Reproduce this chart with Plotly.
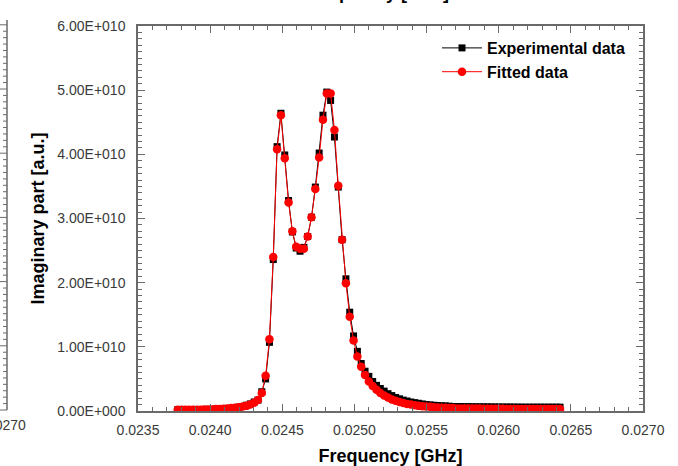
import plotly.graph_objects as go

# ---------------- data ----------------
SCALE = 1e10  # values below are in units of 1e10 a.u.

freq_ghz = [
    0.0237750, 0.0238015, 0.0238280, 0.0238545, 0.0238810, 0.0239075, 0.0239340, 0.0239605,
    0.0239870, 0.0240135, 0.0240400, 0.0240665, 0.0240930, 0.0241195, 0.0241460, 0.0241725,
    0.0241990, 0.0242255, 0.0242520, 0.0242785, 0.0243050, 0.0243315, 0.0243580, 0.0243845,
    0.0244110, 0.0244375, 0.0244640, 0.0244905, 0.0245170, 0.0245435, 0.0245700, 0.0245965,
    0.0246230, 0.0246495, 0.0246760, 0.0247025, 0.0247290, 0.0247555, 0.0247820, 0.0248085,
    0.0248350, 0.0248615, 0.0248880, 0.0249145, 0.0249410, 0.0249675, 0.0249940, 0.0250205,
    0.0250470, 0.0250735, 0.0251000, 0.0251265, 0.0251530, 0.0251795, 0.0252060, 0.0252325,
    0.0252590, 0.0252855, 0.0253120, 0.0253385, 0.0253650, 0.0253915, 0.0254180, 0.0254445,
    0.0254710, 0.0254975, 0.0255240, 0.0255505, 0.0255770, 0.0256035, 0.0256300, 0.0256565,
    0.0256830, 0.0257095, 0.0257360, 0.0257625, 0.0257890, 0.0258155, 0.0258420, 0.0258685,
    0.0258950, 0.0259215, 0.0259480, 0.0259745, 0.0260010, 0.0260275, 0.0260540, 0.0260805,
    0.0261070, 0.0261335, 0.0261600, 0.0261865, 0.0262130, 0.0262395, 0.0262660, 0.0262925,
    0.0263190, 0.0263455, 0.0263720, 0.0263985, 0.0264250,
]

experimental = [
    0.02, 0.02, 0.02, 0.02, 0.02, 0.02, 0.02, 0.025, 0.025, 0.025,
    0.03, 0.03, 0.035, 0.04, 0.04, 0.05, 0.06, 0.07, 0.09, 0.11,
    0.14, 0.17, 0.30, 0.50, 1.07, 2.36, 4.12, 4.64, 3.99, 3.28,
    2.79, 2.54, 2.49, 2.55, 2.72, 3.02, 3.49, 4.02, 4.61, 4.97,
    4.84, 4.27, 3.49, 2.67, 2.06, 1.54, 1.17, 0.93, 0.74, 0.62,
    0.54, 0.46, 0.40, 0.35, 0.31, 0.27, 0.24, 0.21, 0.19, 0.17,
    0.155, 0.14, 0.13, 0.12, 0.11, 0.10, 0.095, 0.09, 0.085, 0.08,
    0.08, 0.075, 0.07, 0.07, 0.07, 0.068, 0.068, 0.066, 0.066, 0.065,
    0.065, 0.064, 0.064, 0.063, 0.063, 0.062, 0.062, 0.062, 0.061, 0.061,
    0.06, 0.06, 0.06, 0.06, 0.06, 0.06, 0.06, 0.06, 0.06, 0.06, 0.06,
]

fitted = [
    0.02, 0.02, 0.02, 0.02, 0.02, 0.02, 0.02, 0.025, 0.025, 0.025,
    0.03, 0.03, 0.035, 0.04, 0.045, 0.05, 0.06, 0.07, 0.08, 0.10,
    0.13, 0.17, 0.28, 0.55, 1.12, 2.40, 4.08, 4.61, 3.94, 3.25,
    2.80, 2.56, 2.53, 2.53, 2.72, 3.02, 3.46, 3.95, 4.54, 4.95,
    4.95, 4.38, 3.51, 2.67, 1.99, 1.47, 1.10, 0.85, 0.69, 0.56,
    0.46, 0.39, 0.33, 0.28, 0.24, 0.21, 0.18, 0.16, 0.14, 0.125,
    0.11, 0.10, 0.09, 0.08, 0.075, 0.07, 0.065, 0.06, 0.055, 0.05,
    0.05, 0.045, 0.045, 0.04, 0.04, 0.04, 0.04, 0.04, 0.038, 0.038,
    0.036, 0.036, 0.035, 0.035, 0.034, 0.034, 0.033, 0.033, 0.032, 0.032,
    0.032, 0.031, 0.031, 0.031, 0.03, 0.03, 0.03, 0.03, 0.03, 0.03, 0.03,
]

series_names = ["Experimental data", "Fitted data"]

y_tickvals = [0, 1e10, 2e10, 3e10, 4e10, 5e10, 6e10]
y_ticktext = ["0.00E+000", "1.00E+010", "2.00E+010", "3.00E+010",
              "4.00E+010", "5.00E+010", "6.00E+010"]

# ---------------- style ----------------
FONT = "Arial, 'Liberation Sans', sans-serif"
AXIS_COLOR = "#6a6a6a"
TICK_FONT_COLOR = "#3a3a3a"

W, H = 678, 466
ML, MR, MT, MB = 138, 35, 26, 55
PW, PH = W - ML - MR, H - MT - MB


def px_to_paper_x(px):
    return (px - ML) / PW


def px_to_paper_y(py):
    return (H - MB - py) / PH


fig = go.Figure()
fig.add_trace(go.Scatter(
    x=freq_ghz, y=[v * SCALE for v in experimental],
    mode="lines+markers", name="<b>%s</b>" % series_names[0],
    line=dict(color="black", width=1),
    marker=dict(symbol="square", size=7, color="black"),
))
fig.add_trace(go.Scatter(
    x=freq_ghz, y=[v * SCALE for v in fitted],
    mode="lines+markers", name="<b>%s</b>" % series_names[1],
    line=dict(color="#ff0000", width=1),
    marker=dict(symbol="circle", size=8.5, color="#ff0000"),
))

common_axis = dict(
    showline=True, linecolor=AXIS_COLOR, linewidth=1.5, mirror="ticks",
    ticks="inside", ticklen=7, tickwidth=1, tickcolor=AXIS_COLOR,
    showgrid=False, zeroline=False,
    tickfont=dict(family=FONT, size=14, color=TICK_FONT_COLOR),
)

fig.update_xaxes(
    range=[0.0235, 0.0270], tickmode="linear", tick0=0.0235, dtick=0.0005,
    tickformat=".4f", ticklabelstandoff=5,
    minor=dict(dtick=0.0001, tick0=0.0235, ticks="inside", ticklen=4,
               tickcolor=AXIS_COLOR, tickwidth=1),
    title=dict(text="<b>Frequency [GHz]</b>", standoff=14,
               font=dict(family=FONT, size=18, color="black")),
    **common_axis,
)
fig.update_yaxes(
    range=[0, 6e10], tickmode="array", tickvals=y_tickvals, ticktext=y_ticktext,
    ticklabelstandoff=8,
    minor=dict(dtick=1e9, tick0=0, ticks="inside", ticklen=4,
               tickcolor=AXIS_COLOR, tickwidth=1),
    title=dict(text="<b>Imaginary part [a.u.]</b>", standoff=8,
               font=dict(family=FONT, size=18, color="black")),
    **common_axis,
)

# fragments of the neighbouring chart visible at the image edges
shapes = [dict(type="line", xref="paper", yref="paper",
               x0=px_to_paper_x(7), x1=px_to_paper_x(7),
               y0=px_to_paper_y(20), y1=px_to_paper_y(410),
               line=dict(color=AXIS_COLOR, width=1.5))]
step = 64.2 / 10
k = 0
py = 410.0
while py >= 20:
    length = 7 if k % 10 == 0 else 4
    shapes.append(dict(type="line", xref="paper", yref="paper",
                       x0=px_to_paper_x(7 - length), x1=px_to_paper_x(7),
                       y0=px_to_paper_y(py), y1=px_to_paper_y(py),
                       line=dict(color=AXIS_COLOR, width=1)))
    k += 1
    py -= step

annotations = [
    dict(text="0.0270", xref="paper", yref="paper",
         x=px_to_paper_x(4), y=px_to_paper_y(425), xanchor="center", yanchor="middle",
         showarrow=False, font=dict(family=FONT, size=14, color=TICK_FONT_COLOR)),
    dict(text="<b>Frequency [GHz]</b>", xref="paper", yref="paper",
         x=px_to_paper_x(377), y=px_to_paper_y(5), xanchor="center", yanchor="bottom",
         showarrow=False, font=dict(family=FONT, size=18, color="black")),
]

fig.update_layout(
    width=W, height=H,
    margin=dict(l=ML, r=MR, t=MT, b=MB, autoexpand=False),
    plot_bgcolor="white", paper_bgcolor="white",
    font=dict(family=FONT, color="black"),
    showlegend=True,
    legend=dict(x=px_to_paper_x(437), y=px_to_paper_y(31), xanchor="left", yanchor="top",
                bgcolor="rgba(0,0,0,0)", borderwidth=0, itemwidth=40, tracegroupgap=0,
                font=dict(family=FONT, size=16, color="black")),
    shapes=shapes,
    annotations=annotations,
)

fig.write_html("out.html")
